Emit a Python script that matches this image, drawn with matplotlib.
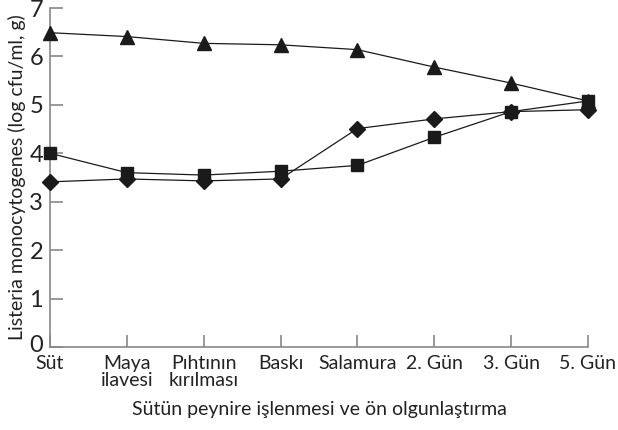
import matplotlib
matplotlib.use("Agg")
import matplotlib.pyplot as plt
from matplotlib.transforms import ScaledTranslation

categories = ["Süt", "Maya\nilavesi", "Pıhtının\nkırılması", "Baskı", "Salamura", "2. Gün", "3. Gün", "5. Gün"]
triangle = [6.49, 6.41, 6.27, 6.24, 6.14, 5.78, 5.45, 5.08]
square = [4.00, 3.60, 3.55, 3.63, 3.75, 4.33, 4.86, 5.08]
diamond = [3.41, 3.47, 3.43, 3.47, 4.51, 4.71, 4.86, 4.90]
yticks = [0, 1, 2, 3, 4, 5, 6, 7]

plt.rcParams['font.family'] = ['Lato', 'DejaVu Sans']

fig = plt.figure(figsize=(6.18, 4.30), dpi=100)
ax = fig.add_axes([50/618, 1-347/430, 538/618, 339/430])
x = list(range(len(categories)))

ax.plot(x, triangle, color='#1a1a1a', lw=0.9, marker='^', ms=10, mfc='#1a1a1a', mec='#1a1a1a', clip_on=False, zorder=3)
ax.plot(x, square, color='#1a1a1a', lw=0.9, marker='s', ms=8, mfc='#1a1a1a', mec='#1a1a1a', clip_on=False, zorder=3)
ax.plot(x, diamond, color='#1a1a1a', lw=0.9, marker='D', ms=8, mfc='#1a1a1a', mec='#1a1a1a', clip_on=False, zorder=3)

ax.set_xlim(0, 7)
ax.set_ylim(0, 7)
ax.set_xticks(x)
ax.set_xticklabels(categories, fontsize=14, color='#222222', linespacing=0.95)
ax.set_yticks(yticks)
ax.set_yticklabels([str(v) for v in yticks], fontsize=17, color='#222222')

for s in ['top', 'right']:
    ax.spines[s].set_visible(False)
for s in ['left', 'bottom']:
    ax.spines[s].set_color('#888888')
    ax.spines[s].set_linewidth(1.2)

ax.tick_params(axis='both', direction='in', length=9, width=1.2, color='#888888')
ax.tick_params(axis='x', pad=6)
ax.tick_params(axis='y', pad=5)

# nudge the "0" label up a little, as in the reference
lbl0 = ax.get_yticklabels()[0]
lbl0.set_transform(lbl0.get_transform() + ScaledTranslation(0, 4/100, fig.dpi_scale_trans))

ax.set_ylabel("Listeria monocytogenes (log cfu/ml, g)", fontsize=14, color='#222222', labelpad=2)
ax.set_xlabel("Sütün peynire işlenmesi ve ön olgunlaştırma", fontsize=14, color='#222222', labelpad=9)

fig.savefig("out.png", dpi=100)
